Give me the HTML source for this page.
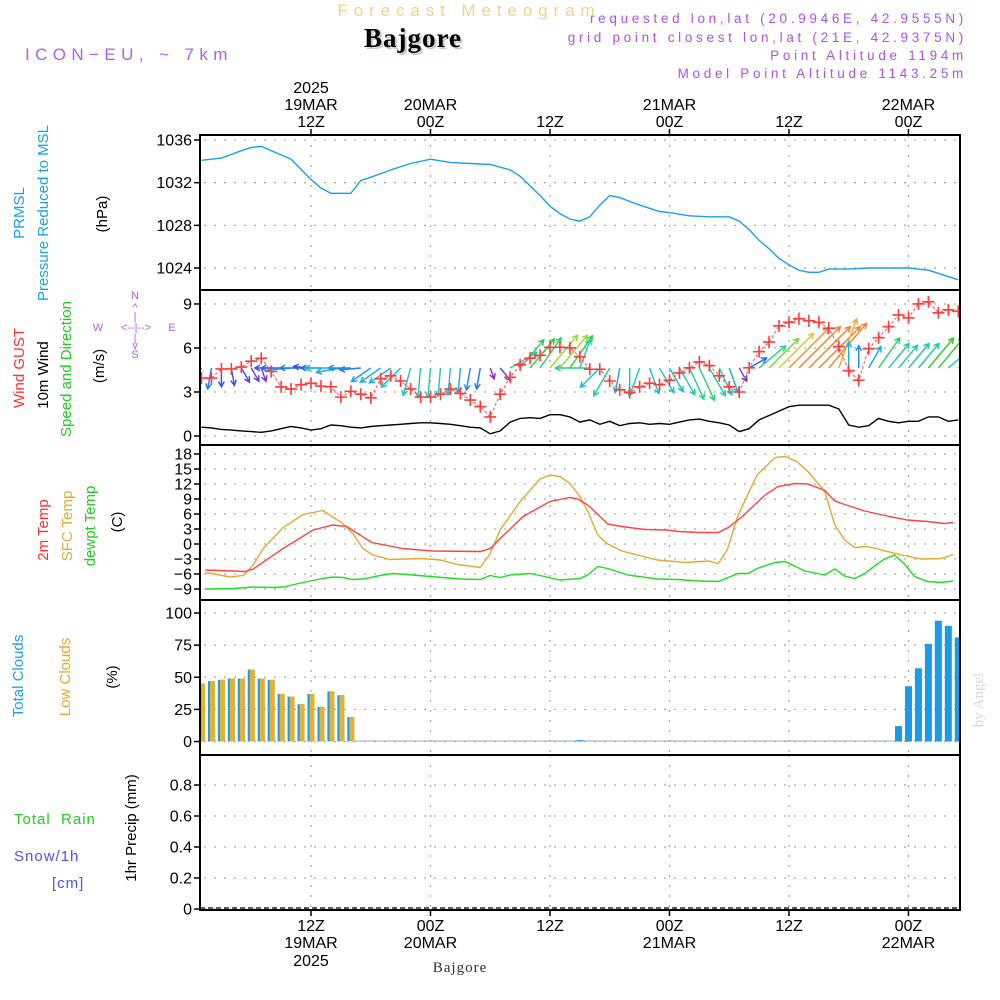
<!DOCTYPE html>
<html><head><meta charset="utf-8"><style>
html,body{margin:0;padding:0;background:#fff;}
svg{display:block;}
text{font-family:"Liberation Sans",sans-serif;}
</style></head><body>
<svg id="chart" width="1000" height="1000" viewBox="0 0 1000 1000" xmlns="http://www.w3.org/2000/svg">
<g>
<text x="469" y="16" text-anchor="middle" font-size="17" fill="#f5cf90" letter-spacing="5.9">Forecast Meteogram</text>
<text x="415" y="49" text-anchor="middle" font-size="27" font-weight="bold" fill="#c0d0c0" style="font-family:'Liberation Serif',serif" letter-spacing="1">Bajgore</text>
<text x="413" y="47" text-anchor="middle" font-size="27" font-weight="bold" fill="#000" style="font-family:'Liberation Serif',serif" letter-spacing="1">Bajgore</text>
<text x="25" y="60" font-size="17" fill="#b060f0" letter-spacing="5.4">ICON−EU, ~ 7km</text>
<text x="967" y="23" text-anchor="end" font-size="13.5" fill="#b050f0" letter-spacing="3.7">requested lon,lat (20.9946E, 42.9555N)</text>
<text x="967" y="42" text-anchor="end" font-size="13.5" fill="#b050f0" letter-spacing="3.7">grid point closest lon,lat (21E, 42.9375N)</text>
<text x="967" y="60" text-anchor="end" font-size="13.5" fill="#b050f0" letter-spacing="3.7">Point Altitude 1194m</text>
<text x="967" y="78" text-anchor="end" font-size="13.5" fill="#b050f0" letter-spacing="3.7">Model Point Altitude 1143.25m</text>
</g>
<g>
<text transform="translate(24,213) rotate(-90)" text-anchor="middle" font-size="15" fill="#1aa0f0">PRMSL</text>
<text transform="translate(48,213) rotate(-90)" text-anchor="middle" font-size="15" fill="#1aa0f0">Pressure Reduced to MSL</text>
<text transform="translate(107,214) rotate(-90)" text-anchor="middle" font-size="15" fill="#000">(hPa)</text>
<text transform="translate(24,368) rotate(-90)" text-anchor="middle" font-size="15"><tspan fill="#ff3333">Wind </tspan><tspan fill="#ff3333">GUST</tspan></text>
<text transform="translate(48,375) rotate(-90)" text-anchor="middle" font-size="15" fill="#000">10m Wind</text>
<text transform="translate(71,369) rotate(-90)" text-anchor="middle" font-size="15" fill="#22cc22">Speed and Direction</text>
<text transform="translate(104,366) rotate(-90)" text-anchor="middle" font-size="15" fill="#000">(m/s)</text>
<g fill="#b060f0" font-size="11" text-anchor="middle">
<text x="135" y="299">N</text><text x="135" y="311">^</text><text x="135" y="320">|</text>
<text x="98" y="331">W</text><text x="136" y="331">&lt;--|--&gt;</text><text x="172" y="331">E</text>
<text x="135" y="342">|</text><text x="135" y="349">v</text><text x="135" y="358">S</text>
</g>
<text transform="translate(48,530) rotate(-90)" text-anchor="middle" font-size="15" fill="#ff3333">2m Temp</text>
<text transform="translate(72,526) rotate(-90)" text-anchor="middle" font-size="15" fill="#e8a830">SFC Temp</text>
<text transform="translate(95,526) rotate(-90)" text-anchor="middle" font-size="15" fill="#22cc22">dewpt Temp</text>
<text transform="translate(122,522) rotate(-90)" text-anchor="middle" font-size="15" fill="#000">(C)</text>
<text transform="translate(23,676) rotate(-90)" text-anchor="middle" font-size="15" fill="#1aa0f0">Total Clouds</text>
<text transform="translate(70,677) rotate(-90)" text-anchor="middle" font-size="15" fill="#e8a830">Low Clouds</text>
<text transform="translate(117,677) rotate(-90)" text-anchor="middle" font-size="15" fill="#000">(%)</text>
<text x="14" y="824" font-size="15" fill="#22cc22" letter-spacing="1" xml:space="preserve">Total  Rain</text>
<text x="14" y="861" font-size="15" fill="#5050ff" letter-spacing="1">Snow/1h</text>
<text x="52" y="888" font-size="15" fill="#5050ff" letter-spacing="1">[cm]</text>
<text transform="translate(136,828) rotate(-90)" text-anchor="middle" font-size="15" fill="#000">1hr Precip (mm)</text>
<text transform="translate(983,700) rotate(-90)" text-anchor="middle" font-size="15" fill="#d8d8d8" style="font-family:'Liberation Serif',serif">by Angel</text>
<text x="460" y="972" text-anchor="middle" font-size="15" fill="#333" style="font-family:'Liberation Serif',serif" letter-spacing="1">Bajgore</text>
</g>
<g id="plot"></g>
</svg>
<script>
// ---- data (hours since 19MAR 00Z) ----
const timeTickHours = [12, 24, 36, 48, 60, 72];
const timeTickTop1 = ["2025", "", "", "", "", ""];
const timeTickTop2 = ["19MAR", "20MAR", "", "21MAR", "", "22MAR"];
const timeTickTop3 = ["12Z", "00Z", "12Z", "00Z", "12Z", "00Z"];
const timeTickBot2 = ["19MAR", "20MAR", "", "21MAR", "", "22MAR"];
const timeTickBot3 = ["2025", "", "", "", "", ""];

const pressTicks = [1036, 1032, 1028, 1024];
const pressHours = [1,3,5,6,7,9,10,12,13,14,16,17,18,20,22,24,26,28,30,32,33,34,35,36,37,38,39,40,41,42,43,45,47,48,50,52,54,55,56,57,58,59,60,61,62,63,64,66,68,70,72,74,76,77];
const pressVals = [1034.1,1034.3,1035.0,1035.3,1035.4,1034.6,1034.2,1032.3,1031.5,1031.0,1031.0,1032.2,1032.5,1033.2,1033.8,1034.2,1033.9,1033.8,1033.7,1033.2,1032.6,1031.7,1030.8,1029.8,1029.1,1028.6,1028.4,1028.8,1029.9,1030.8,1030.6,1029.9,1029.3,1029.2,1028.9,1028.8,1028.8,1028.4,1027.6,1026.6,1025.8,1024.9,1024.3,1023.8,1023.6,1023.6,1023.9,1023.9,1024.0,1024.0,1024.0,1023.8,1023.2,1022.9];

const windTicks = [9, 6, 3, 0];
const windSpeed = [0.6,0.55,0.45,0.4,0.35,0.3,0.25,0.35,0.5,0.65,0.55,0.4,0.5,0.75,0.7,0.6,0.55,0.65,0.7,0.75,0.8,0.85,0.9,0.9,0.85,0.8,0.7,0.6,0.55,0.15,0.35,0.95,1.2,1.25,1.2,1.45,1.45,1.3,0.95,1.1,0.8,1.0,0.7,0.85,0.9,0.8,0.85,0.8,0.95,1.1,1.15,1.0,0.9,0.75,0.3,0.5,1.1,1.4,1.7,2.0,2.1,2.1,2.1,2.1,1.85,0.75,0.6,0.7,1.2,1.0,0.9,1.0,1.0,1.3,1.3,1.0,1.1];
const windGust = [3.95,3.95,4.57,4.57,4.7,5.1,5.3,4.4,3.35,3.2,3.5,3.6,3.4,3.35,2.65,3.05,2.85,2.6,3.9,4.1,3.75,3.2,2.65,2.65,2.85,3.2,2.9,2.45,2.0,1.3,2.85,4.0,4.85,5.3,5.5,6.05,6.05,6.0,5.4,4.55,4.55,3.75,3.15,2.95,3.35,3.6,3.5,3.8,4.3,4.65,5.05,4.8,4.1,3.35,3.0,4.65,5.75,6.4,7.5,7.75,8.0,7.85,7.75,7.35,6.1,4.45,3.8,5.95,6.7,7.45,8.25,8.05,9.0,9.15,8.4,8.6,8.5];
const windDir = [30,10,0,350,330,330,340,90,90,85,90,95,90,90,80,90,85,55,55,55,45,15,5,5,5,5,5,10,10,340,320,240,220,220,215,220,220,215,200,90,45,30,10,0,20,340,330,330,330,335,335,330,335,340,330,240,230,225,225,225,225,225,225,220,200,180,180,210,215,220,220,220,220,220,220,230,240];

const tempTicks = [18,15,12,9,6,3,0,-3,-6,-9];
const t2Hours = [1.4,5.4,6.2,9.2,12.2,14.2,15.6,18.1,21.2,24.2,29.0,30.0,31.0,33.3,36.0,38.0,38.8,39.8,41.8,43.2,45.5,47.7,48.9,50.9,52.9,53.9,55.3,57.6,58.9,60.6,61.9,63.6,64.6,65.9,67.6,69.6,71.9,73.9,75.6,76.5];
const t2Vals = [-5.2,-5.5,-5.0,-0.9,2.8,3.8,3.5,0.3,-0.9,-1.4,-1.5,-0.9,1.1,5.5,8.5,9.3,9.0,7.8,4.0,3.5,2.9,2.8,2.5,2.3,2.3,3.3,5.5,9.8,11.5,12.1,12.0,10.7,8.6,7.7,6.6,5.7,4.8,4.5,4.1,4.3];
const sfcHours = [1.4,3.9,5.2,6.2,7.2,9.2,11.2,13.2,15.2,16.2,17.2,18.2,19.9,23.2,25.0,26.7,29.0,30.0,31.0,33.0,35.0,36.0,37.0,38.0,39.0,39.8,40.8,41.8,43.2,44.8,46.8,49.6,51.9,52.9,53.8,54.9,56.8,58.6,59.6,60.8,61.9,63.6,64.6,65.6,66.6,67.8,68.9,71.3,73.3,75.3,76.5];
const sfcVals = [-5.7,-6.6,-6.3,-4.2,-0.9,3.3,5.9,6.7,4.1,2.1,-0.9,-2.2,-3.1,-2.9,-3.2,-4.1,-4.7,-1.9,2.8,8.5,13.0,13.8,13.5,12.1,9.5,6.5,1.8,0.0,-1.4,-2.2,-3.2,-3.7,-3.4,-3.9,-1.2,5.8,13.8,17.3,17.5,16.5,14.5,10.5,3.8,0.8,-0.7,-0.5,-1.0,-2.2,-3.0,-2.9,-2.1];
const tdHours = [1.4,4.2,6.2,8.2,9.2,11.2,13.2,14.2,15.2,16.2,17.2,19.2,20.2,21.6,24.0,27.0,29.0,30.0,31.0,32.0,34.0,35.0,37.0,39.0,39.8,40.8,41.8,43.8,46.8,48.9,50.9,52.9,54.9,55.9,56.8,58.6,59.6,61.6,63.6,64.6,65.6,66.6,67.6,68.6,69.6,70.6,71.6,72.6,73.9,75.3,76.5];
const tdVals = [-9.0,-8.9,-8.6,-8.7,-8.6,-7.7,-6.9,-6.6,-6.7,-7.1,-7.0,-6.2,-5.9,-6.1,-6.5,-7.0,-7.1,-6.3,-6.7,-6.2,-5.9,-6.3,-7.2,-6.9,-6.2,-4.5,-4.9,-6.2,-7.0,-7.1,-7.4,-7.5,-5.9,-5.9,-4.9,-3.7,-3.5,-5.4,-6.2,-5.0,-6.4,-6.9,-5.9,-4.4,-3.0,-2.2,-4.0,-6.5,-7.5,-7.7,-7.4];

const cloudTicks = [100, 75, 50, 25, 0];
const totalClouds = [45,47,48,49,49,56,49,48,37,35,29,37,27,39,36,19,0,0,0,0,0,0,0,0,0,0,0,0,0,0,0,0,0,0,0,0,0,0,1,0,0,0,0,0,0,0,0,0,0,0,0,0,0,0,0,0,0,0,0,0,0,0,0,0,0,0,0,0,0,0,12,43,57,76,94,90,81];
const lowClouds = [45,47,48,49,49,56,49,48,37,35,29,37,27,39,36,19,0,0,0,0,0,0,0,0,0,0,0,0,0,0,0,0,0,0,0,0,0,0,0,0,0,0,0,0,0,0,0,0,0,0,0,0,0,0,0,0,0,0,0,0,0,0,0,0,0,0,0,0,0,0,0,0,0,0,0,0,0];

const precipTicks = [0.8, 0.6, 0.4, 0.2, 0];
const precipTickLabels = ["0.8", "0.6", "0.4", "0.2", "0"];
const rainVals = [0,0,0,0,0,0,0,0,0,0,0,0,0,0,0,0,0,0,0,0,0,0,0,0,0,0,0,0,0,0,0,0,0,0,0,0,0,0,0,0,0,0,0,0,0,0,0,0,0,0,0,0,0,0,0,0,0,0,0,0,0,0,0,0,0,0,0,0,0,0,0,0,0,0,0,0,0];

// ---- scales ----
const X0 = 200, X1 = 960;
function xH(h) { return 191.5 + h * 9.958; }
function yP(v) { return 140 + (1036 - v) * 10.67; }
function yW(v) { return 436 - v * 14.67; }
function yT(v) { return 454 + (18 - v) * 5; }
function yC(v) { return 741.5 - v * 1.285; }
function yR(v) { return 909 - v * 155; }
const panels = [[135, 290], [290, 445], [445, 600], [600, 755], [755, 910]];

const NS = "http://www.w3.org/2000/svg";
const plot = document.getElementById("plot");
function mk(tag, attrs, parent) {
  const e = document.createElementNS(NS, tag);
  for (const k in attrs) e.setAttribute(k, attrs[k]);
  (parent || plot).appendChild(e);
  return e;
}
function txt(x, y, s, size, anchor, parent) {
  const t = mk("text", {x: x, y: y, "font-size": size, "text-anchor": anchor, fill: "#000"}, parent);
  t.textContent = s;
  return t;
}

const defs = mk("defs", {});
const cp = mk("clipPath", {id: "pc"}, defs);
mk("rect", {x: X0, y: 135, width: X1 - X0, height: 775}, cp);

const grid = mk("g", {stroke: "#aaa", "stroke-width": 1.3, "stroke-dasharray": "2,8"});


panels.forEach(function (p) {
  timeTickHours.forEach(function (h) {
    mk("line", {x1: xH(h), y1: p[0], x2: xH(h), y2: p[1]}, grid);
  });
});
function hgrid(ticks, fy, labels, name) {
  const g = mk("g", {});
  
  
  ticks.forEach(function (v, i) {
    const y = fy(v);
    mk("line", {x1: X0 + 4, y1: y, x2: X1, y2: y, stroke: "#aaa", "stroke-width": 1.3, "stroke-dasharray": "2,8"}, g);
    mk("line", {x1: X0 - 6, y1: y, x2: X0, y2: y, stroke: "#000", "stroke-width": 1.5}, g);
    txt(X0 - 8, y + 5.5, labels ? labels[i] : String(v).replace("-", "−"), 16, "end", g);
  });
}
hgrid(pressTicks, yP, null, "pressure-axis");
hgrid(windTicks, yW, null, "wind-axis");
hgrid(tempTicks, yT, null, "temp-axis");
hgrid(cloudTicks, yC, null, "cloud-axis");
hgrid(precipTicks, yR, precipTickLabels, "precip-axis");

const tl = mk("g", {});


timeTickHours.forEach(function (h, i) {
  const x = xH(h);
  if (timeTickTop1[i]) txt(x, 93, timeTickTop1[i], 16, "middle", tl);
  if (timeTickTop2[i]) txt(x, 110, timeTickTop2[i], 16, "middle", tl);
  txt(x, 127, timeTickTop3[i], 16, "middle", tl);
  txt(x, 931, timeTickTop3[i], 16, "middle", tl);
  if (timeTickBot2[i]) txt(x, 948, timeTickBot2[i], 16, "middle", tl);
  if (timeTickBot3[i]) txt(x, 966, timeTickBot3[i], 16, "middle", tl);
  mk("line", {x1: x, y1: 129, x2: x, y2: 135, stroke: "#000", "stroke-width": 1.5}, tl);
  mk("line", {x1: x, y1: 910, x2: x, y2: 916, stroke: "#000", "stroke-width": 1.5}, tl);
});

function poly(hours, vals, fy, color, name, w, dash) {
  const pts = hours.map(function (h, i) { return xH(h).toFixed(1) + "," + fy(vals[i]).toFixed(1); }).join(" ");
  const p = mk("polyline", {points: pts, fill: "none", stroke: color, "stroke-width": w || 1.4, "clip-path": "url(#pc)"});
  if (dash) p.setAttribute("stroke-dasharray", dash);
  
  
  return p;
}
const hourly = windSpeed.map(function (v, i) { return i + 1; });

poly(pressHours, pressVals, yP, "#1aa0f0", "pressure-line");
poly(hourly, windSpeed, yW, "#000", "wind-speed-line");

function arrowColor(s) {
  const stops = [[0.2,[140,40,230]],[0.45,[40,80,255]],[0.65,[20,160,240]],[0.85,[20,200,200]],[1.1,[30,210,140]],[1.3,[40,210,40]],[1.5,[190,225,60]],[1.8,[240,180,50]],[2.1,[245,130,40]]];
  if (s <= stops[0][0]) return "rgb(" + stops[0][1].join(",") + ")";
  for (let i = 1; i < stops.length; i++) {
    if (s <= stops[i][0]) {
      const a = stops[i - 1], b = stops[i], t = (s - a[0]) / (b[0] - a[0]);
      return "rgb(" + a[1].map(function (c, k) { return Math.round(c + (b[1][k] - c) * t); }).join(",") + ")";
    }
  }
  return "rgb(" + stops[stops.length - 1][1].join(",") + ")";
}
const arrows = mk("g", {"clip-path": "url(#pc)", "stroke-width": 1.4, fill: "none"});


windDir.forEach(function (d, i) {
  const s = windSpeed[i];
  const L = 8 + 24 * s;
  const r = d * Math.PI / 180;
  const ux = -Math.sin(r), uy = Math.cos(r);
  const x1 = xH(i + 1), y1 = 368;
  const x2 = x1 + ux * L, y2 = y1 + uy * L;
  const c = arrowColor(s);
  const a = Math.atan2(uy, ux);
  const hx1 = x2 - 6 * Math.cos(a - 0.5), hy1 = y2 - 6 * Math.sin(a - 0.5);
  const hx2 = x2 - 6 * Math.cos(a + 0.5), hy2 = y2 - 6 * Math.sin(a + 0.5);
  const p = mk("path", {d: "M" + x1.toFixed(1) + "," + y1 + "L" + x2.toFixed(1) + "," + y2.toFixed(1) + "M" + hx1.toFixed(1) + "," + hy1.toFixed(1) + "L" + x2.toFixed(1) + "," + y2.toFixed(1) + "L" + hx2.toFixed(1) + "," + hy2.toFixed(1), stroke: c}, arrows);
  
  
});

poly(hourly, windGust, yW, "#ff5050", "wind-gust-line", 1, "3,2");
const gm = mk("g", {stroke: "#ff3b3b", "stroke-width": 1.6, "clip-path": "url(#pc)"});


windGust.forEach(function (v, i) {
  const x = xH(i + 1), y = yW(v);
  const p = mk("path", {d: "M" + (x - 6) + "," + y + "h12M" + x + "," + (y - 6) + "v12"}, gm);
  
  
});

poly(sfcHours, sfcVals, yT, "#e8a830", "sfc-temp-line");
poly(t2Hours, t2Vals, yT, "#ff4444", "temp-2m-line");
poly(tdHours, tdVals, yT, "#22dd22", "dewpoint-line");

const cl = mk("g", {"clip-path": "url(#pc)"});


mk("line", {x1: xH(16.5), y1: yC(0) - 0.5, x2: xH(70.5), y2: yC(0) - 0.5, stroke: "#9ab", "stroke-width": 1}, cl);
totalClouds.forEach(function (v, i) {
  const x = xH(i + 1);
  if (v > 0) {
    const r = mk("rect", {x: x - 3.5, y: yC(v), width: 7, height: yC(0) - yC(v), fill: "#1a9ae8"}, cl);
    
    
  }
  const lv = lowClouds[i];
  if (lv > 0) {
    const r2 = mk("rect", {x: x - 1.5, y: yC(lv), width: 5, height: yC(0) - yC(lv), fill: "#e8b030"}, cl);
    
    
  }
});

const pr = mk("g", {"clip-path": "url(#pc)"});


mk("line", {x1: X0, y1: yR(0) - 1, x2: X1, y2: yR(0) - 1, stroke: "#000", "stroke-width": 1.2, "stroke-dasharray": "5,3"}, pr);
rainVals.forEach(function (v, i) {
  if (v > 0) {
    const r = mk("rect", {x: xH(i + 1) - 3.5, y: yR(v), width: 7, height: yR(0) - yR(v), fill: "#22cc22"}, pr);
    
    
  }
});

const fr = mk("g", {fill: "none", stroke: "#000", "stroke-width": 2});


panels.forEach(function (p) {
  mk("rect", {x: X0, y: p[0], width: X1 - X0, height: p[1] - p[0]}, fr);
});
</script>
</body></html>
